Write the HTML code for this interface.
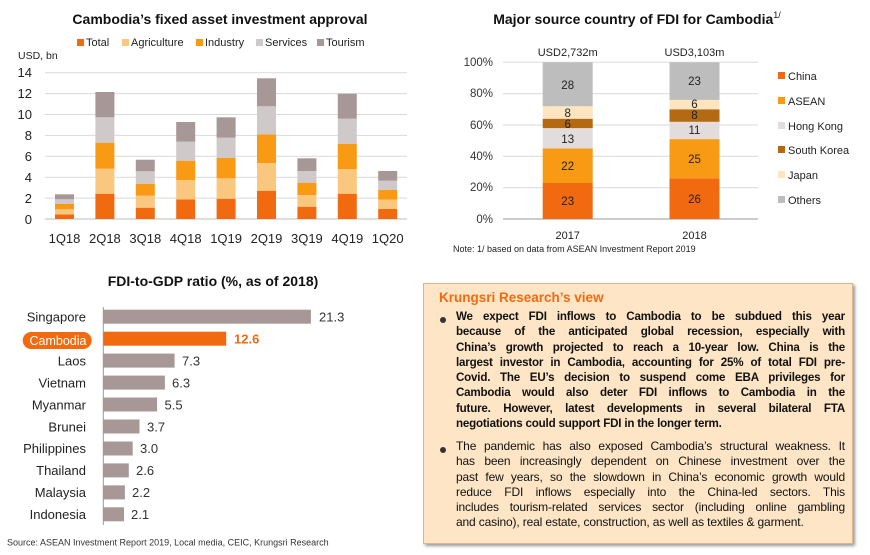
<!DOCTYPE html>
<html><head><meta charset="utf-8"><style>
body{margin:0;background:#fff;width:870px;height:555px;overflow:hidden;position:relative;font-family:"Liberation Sans",sans-serif}
svg{position:absolute;left:0;top:0}
.box{position:absolute;left:423px;top:283px;width:430px;height:261px;background:#fde5c6;border:1px solid #d6b88f;box-shadow:2px 2px 3px #999;box-sizing:border-box}
.box h3{margin:0;position:absolute;left:15px;top:6px;font-size:13.5px;color:#f26a10;font-weight:bold}
.p{position:absolute;left:32px;width:389px;line-height:15.3px;color:#111}
.p div{text-align:justify;text-align-last:justify;white-space:nowrap;overflow:visible;height:15.3px}
.p div.l{text-align-last:left}
.b{font-weight:bold;font-size:11.6px;letter-spacing:-0.2px;top:25px}
.r{font-size:12px;letter-spacing:-0.15px;top:155px}
.dot{position:absolute;left:16px;width:6px;height:6px;border-radius:50%;background:#333}
</style></head><body>
<svg width="870" height="555" xmlns="http://www.w3.org/2000/svg" font-family="Liberation Sans, sans-serif">
<text x="220" y="24" font-size="14" font-weight="bold" text-anchor="middle" fill="#111">Cambodia’s fixed asset investment approval</text>
<g font-size="11" fill="#222">
<rect x="77" y="39" width="7" height="7" fill="#f26a10"/><text x="86" y="46">Total</text>
<rect x="122" y="39" width="7" height="7" fill="#f9c77e"/><text x="131" y="46">Agriculture</text>
<rect x="196" y="39" width="7" height="7" fill="#f99a14"/><text x="205" y="46">Industry</text>
<rect x="256" y="39" width="7" height="7" fill="#d0c9c9"/><text x="265" y="46">Services</text>
<rect x="317" y="39" width="7" height="7" fill="#a89797"/><text x="326" y="46">Tourism</text>
<text x="18" y="59" font-size="10.5">USD, bn</text>
</g>
<g stroke="#d9d9d9" stroke-width="1">
<line x1="45" x2="407" y1="72.7" y2="72.7"/><line x1="45" x2="407" y1="93.6" y2="93.6"/><line x1="45" x2="407" y1="114.5" y2="114.5"/><line x1="45" x2="407" y1="135.4" y2="135.4"/><line x1="45" x2="407" y1="156.3" y2="156.3"/><line x1="45" x2="407" y1="177.2" y2="177.2"/><line x1="45" x2="407" y1="198.1" y2="198.1"/>
<line x1="45" x2="407" y1="219" y2="219" stroke="#bbb"/>
</g>
<g font-size="13" fill="#222" text-anchor="end">
<text x="32" y="77">14</text><text x="32" y="98">12</text><text x="32" y="119">10</text><text x="32" y="140">8</text><text x="32" y="161">6</text><text x="32" y="182">4</text><text x="32" y="203">2</text><text x="32" y="224">0</text>
</g>
<g font-size="13" fill="#222" text-anchor="middle">
<text x="64.5" y="243">1Q18</text><text x="104.9" y="243">2Q18</text><text x="145.3" y="243">3Q18</text><text x="185.7" y="243">4Q18</text><text x="226.1" y="243">1Q19</text><text x="266.5" y="243">2Q19</text><text x="306.9" y="243">3Q19</text><text x="347.3" y="243">4Q19</text><text x="387.7" y="243">1Q20</text>
</g>
<text x="637" y="24" font-size="14" font-weight="bold" text-anchor="middle" fill="#111">Major source country of FDI for Cambodia<tspan font-size="9" font-weight="normal" dy="-6">1/</tspan></text>
<g stroke="#d9d9d9"><line x1="503" x2="758" y1="62.3" y2="62.3"/><line x1="503" x2="758" y1="93.7" y2="93.7"/><line x1="503" x2="758" y1="125" y2="125"/><line x1="503" x2="758" y1="156.3" y2="156.3"/><line x1="503" x2="758" y1="187.7" y2="187.7"/><line x1="503" x2="758" y1="219" y2="219" stroke="#999"/></g>
<g font-size="11.5" fill="#333" text-anchor="end"><text x="493" y="66">100%</text><text x="493" y="97">80%</text><text x="493" y="129">60%</text><text x="493" y="160">40%</text><text x="493" y="191">20%</text><text x="493" y="223">0%</text></g>
<g>
<rect x="542.7" y="183" width="50" height="36" fill="#f26a10"/><rect x="542.7" y="148.5" width="50" height="34.5" fill="#f99a14"/><rect x="542.7" y="128.1" width="50" height="20.4" fill="#e2dcdc"/><rect x="542.7" y="118.7" width="50" height="9.4" fill="#b36a12"/><rect x="542.7" y="106.2" width="50" height="12.5" fill="#fde5c0"/><rect x="542.7" y="62.3" width="50" height="43.9" fill="#bdbdbd"/>
<rect x="669.5" y="178.3" width="50" height="40.7" fill="#f26a10"/><rect x="669.5" y="139.1" width="50" height="39.2" fill="#f99a14"/><rect x="669.5" y="121.8" width="50" height="17.3" fill="#e2dcdc"/><rect x="669.5" y="109.3" width="50" height="12.5" fill="#b36a12"/><rect x="669.5" y="99.9" width="50" height="9.4" fill="#fde5c0"/><rect x="669.5" y="62.3" width="50" height="37.6" fill="#bdbdbd"/>
</g>
<g font-size="11.5" fill="#222" text-anchor="middle">
<text x="567.7" y="205">23</text><text x="567.7" y="170">22</text><text x="567.7" y="143">13</text><text x="567.7" y="128">6</text><text x="567.7" y="117">8</text><text x="567.7" y="89">28</text>
<text x="694.5" y="203">26</text><text x="694.5" y="163">25</text><text x="694.5" y="134">11</text><text x="694.5" y="119">8</text><text x="694.5" y="108">6</text><text x="694.5" y="85">23</text>
<text x="567.7" y="56" font-size="11">USD2,732m</text><text x="694.5" y="56" font-size="11">USD3,103m</text>
<text x="567.7" y="239" font-size="11">2017</text><text x="694.5" y="239" font-size="11">2018</text>
</g>
<g font-size="11" fill="#222">
<rect x="778" y="72" width="7" height="7" fill="#f26a10"/><text x="788" y="80">China</text>
<rect x="778" y="97" width="7" height="7" fill="#f99a14"/><text x="788" y="105">ASEAN</text>
<rect x="778" y="122" width="7" height="7" fill="#e2dcdc"/><text x="788" y="130">Hong Kong</text>
<rect x="778" y="146" width="7" height="7" fill="#b36a12"/><text x="788" y="154">South Korea</text>
<rect x="778" y="171" width="7" height="7" fill="#fde5c0"/><text x="788" y="179">Japan</text>
<rect x="778" y="196" width="7" height="7" fill="#bdbdbd"/><text x="788" y="204">Others</text>
</g>
<text x="453" y="252" font-size="9" fill="#222">Note: 1/ based on data from ASEAN Investment Report 2019</text>
<text x="213" y="286" font-size="14" font-weight="bold" text-anchor="middle" fill="#111">FDI-to-GDP ratio (%, as of 2018)</text>
<line x1="103.3" x2="103.3" y1="307" y2="525" stroke="#999"/>
<rect x="22.7" y="332" width="69" height="17" rx="8.5" fill="#f26a10"/>
<g fill="#a89797">
<rect x="103.5" y="309.7" width="207.4" height="14"/>
<rect x="103.5" y="331.7" width="122.7" height="14" fill="#f26a10"/>
<rect x="103.5" y="353.6" width="71.1" height="14"/>
<rect x="103.5" y="375.6" width="61.4" height="14"/>
<rect x="103.5" y="397.5" width="53.6" height="14"/>
<rect x="103.5" y="419.5" width="36" height="14"/>
<rect x="103.5" y="441.5" width="29.2" height="14"/>
<rect x="103.5" y="463.4" width="25.3" height="14"/>
<rect x="103.5" y="485.4" width="21.4" height="14"/>
<rect x="103.5" y="507.3" width="20.5" height="14"/>
</g>
<g font-size="13" fill="#222" text-anchor="end">
<text x="86" y="321.5">Singapore</text><text x="86.5" y="345" fill="#fff" font-size="12.5">Cambodia</text><text x="86" y="365.5">Laos</text><text x="86" y="387.5">Vietnam</text><text x="86" y="409.5">Myanmar</text><text x="86" y="431.5">Brunei</text><text x="86" y="453">Philippines</text><text x="86" y="475">Thailand</text><text x="86" y="497">Malaysia</text><text x="86" y="519">Indonesia</text>
</g>
<g font-size="13" fill="#333">
<text x="319" y="321.5">21.3</text><text x="234" y="343.5" fill="#f26a10" font-weight="bold">12.6</text><text x="182" y="365.5">7.3</text><text x="172" y="387.5">6.3</text><text x="164.5" y="409.5">5.5</text><text x="147" y="431.5">3.7</text><text x="140" y="453">3.0</text><text x="136" y="475">2.6</text><text x="132" y="497">2.2</text><text x="131" y="519">2.1</text>
</g>
<text x="7" y="545.5" font-size="9" fill="#333">Source: ASEAN Investment Report 2019, Local media, CEIC, Krungsri Research</text>
<g>
<rect x="55" y="214.3" width="19" height="4.7" fill="#f26a10"/><rect x="55" y="209.3" width="19" height="5" fill="#f9c77e"/><rect x="55" y="204" width="19" height="5.3" fill="#f99a14"/><rect x="55" y="199.3" width="19" height="4.7" fill="#d0c9c9"/><rect x="55" y="194.3" width="19" height="5" fill="#a89797"/>
<rect x="95.4" y="193.7" width="19" height="25.3" fill="#f26a10"/><rect x="95.4" y="168.7" width="19" height="25" fill="#f9c77e"/><rect x="95.4" y="142.7" width="19" height="26" fill="#f99a14"/><rect x="95.4" y="117.3" width="19" height="25.4" fill="#d0c9c9"/><rect x="95.4" y="92" width="19" height="25.3" fill="#a89797"/>
<rect x="135.8" y="207.7" width="19" height="11.3" fill="#f26a10"/><rect x="135.8" y="195.7" width="19" height="12" fill="#f9c77e"/><rect x="135.8" y="183.7" width="19" height="12" fill="#f99a14"/><rect x="135.8" y="171.3" width="19" height="12.4" fill="#d0c9c9"/><rect x="135.8" y="159.7" width="19" height="11.6" fill="#a89797"/>
<rect x="176.2" y="199.3" width="19" height="19.7" fill="#f26a10"/><rect x="176.2" y="180" width="19" height="19.3" fill="#f9c77e"/><rect x="176.2" y="160.7" width="19" height="19.3" fill="#f99a14"/><rect x="176.2" y="141.7" width="19" height="19" fill="#d0c9c9"/><rect x="176.2" y="122" width="19" height="19.7" fill="#a89797"/>
<rect x="216.6" y="198.7" width="19" height="20.3" fill="#f26a10"/><rect x="216.6" y="178.3" width="19" height="20.4" fill="#f9c77e"/><rect x="216.6" y="158" width="19" height="20.3" fill="#f99a14"/><rect x="216.6" y="137.7" width="19" height="20.3" fill="#d0c9c9"/><rect x="216.6" y="117.3" width="19" height="20.4" fill="#a89797"/>
<rect x="257" y="190.7" width="19" height="28.3" fill="#f26a10"/><rect x="257" y="163" width="19" height="27.7" fill="#f9c77e"/><rect x="257" y="134.3" width="19" height="28.7" fill="#f99a14"/><rect x="257" y="106.3" width="19" height="28" fill="#d0c9c9"/><rect x="257" y="78.3" width="19" height="28" fill="#a89797"/>
<rect x="297.4" y="206.7" width="19" height="12.3" fill="#f26a10"/><rect x="297.4" y="195" width="19" height="11.7" fill="#f9c77e"/><rect x="297.4" y="182.7" width="19" height="12.3" fill="#f99a14"/><rect x="297.4" y="171" width="19" height="11.7" fill="#d0c9c9"/><rect x="297.4" y="158.3" width="19" height="12.7" fill="#a89797"/>
<rect x="337.8" y="193.7" width="19" height="25.3" fill="#f26a10"/><rect x="337.8" y="169" width="19" height="24.7" fill="#f9c77e"/><rect x="337.8" y="143.7" width="19" height="25.3" fill="#f99a14"/><rect x="337.8" y="118.7" width="19" height="25" fill="#d0c9c9"/><rect x="337.8" y="93.7" width="19" height="25" fill="#a89797"/>
<rect x="378.2" y="209" width="19" height="10" fill="#f26a10"/><rect x="378.2" y="199.7" width="19" height="9.3" fill="#f9c77e"/><rect x="378.2" y="190" width="19" height="9.7" fill="#f99a14"/><rect x="378.2" y="180.7" width="19" height="9.3" fill="#d0c9c9"/><rect x="378.2" y="171" width="19" height="9.7" fill="#a89797"/>
</g>
</svg>
<div class="box">
<h3>Krungsri Research’s view</h3>
<span class="dot" style="top:33px"></span>
<div class="p b">
<div>We expect FDI inflows to Cambodia to be subdued this year</div>
<div>because of the anticipated global recession, especially with</div>
<div>China’s growth projected to reach a 10-year low. China is the</div>
<div>largest investor in Cambodia, accounting for 25% of total FDI pre-</div>
<div>Covid. The EU’s decision to suspend come EBA privileges for</div>
<div>Cambodia would also deter FDI inflows to Cambodia in the</div>
<div>future. However, latest developments in several bilateral FTA</div>
<div class="l">negotiations could support FDI in the longer term.</div>
</div>
<span class="dot" style="top:163px"></span>
<div class="p r">
<div>The pandemic has also exposed Cambodia’s structural weakness. It</div>
<div>has been increasingly dependent on Chinese investment over the</div>
<div>past few years, so the slowdown in China’s economic growth would</div>
<div>reduce FDI inflows especially into the China-led sectors. This</div>
<div>includes tourism-related services sector (including online gambling</div>
<div class="l">and casino), real estate, construction, as well as textiles &amp; garment.</div>
</div>
</div>
</body></html>
